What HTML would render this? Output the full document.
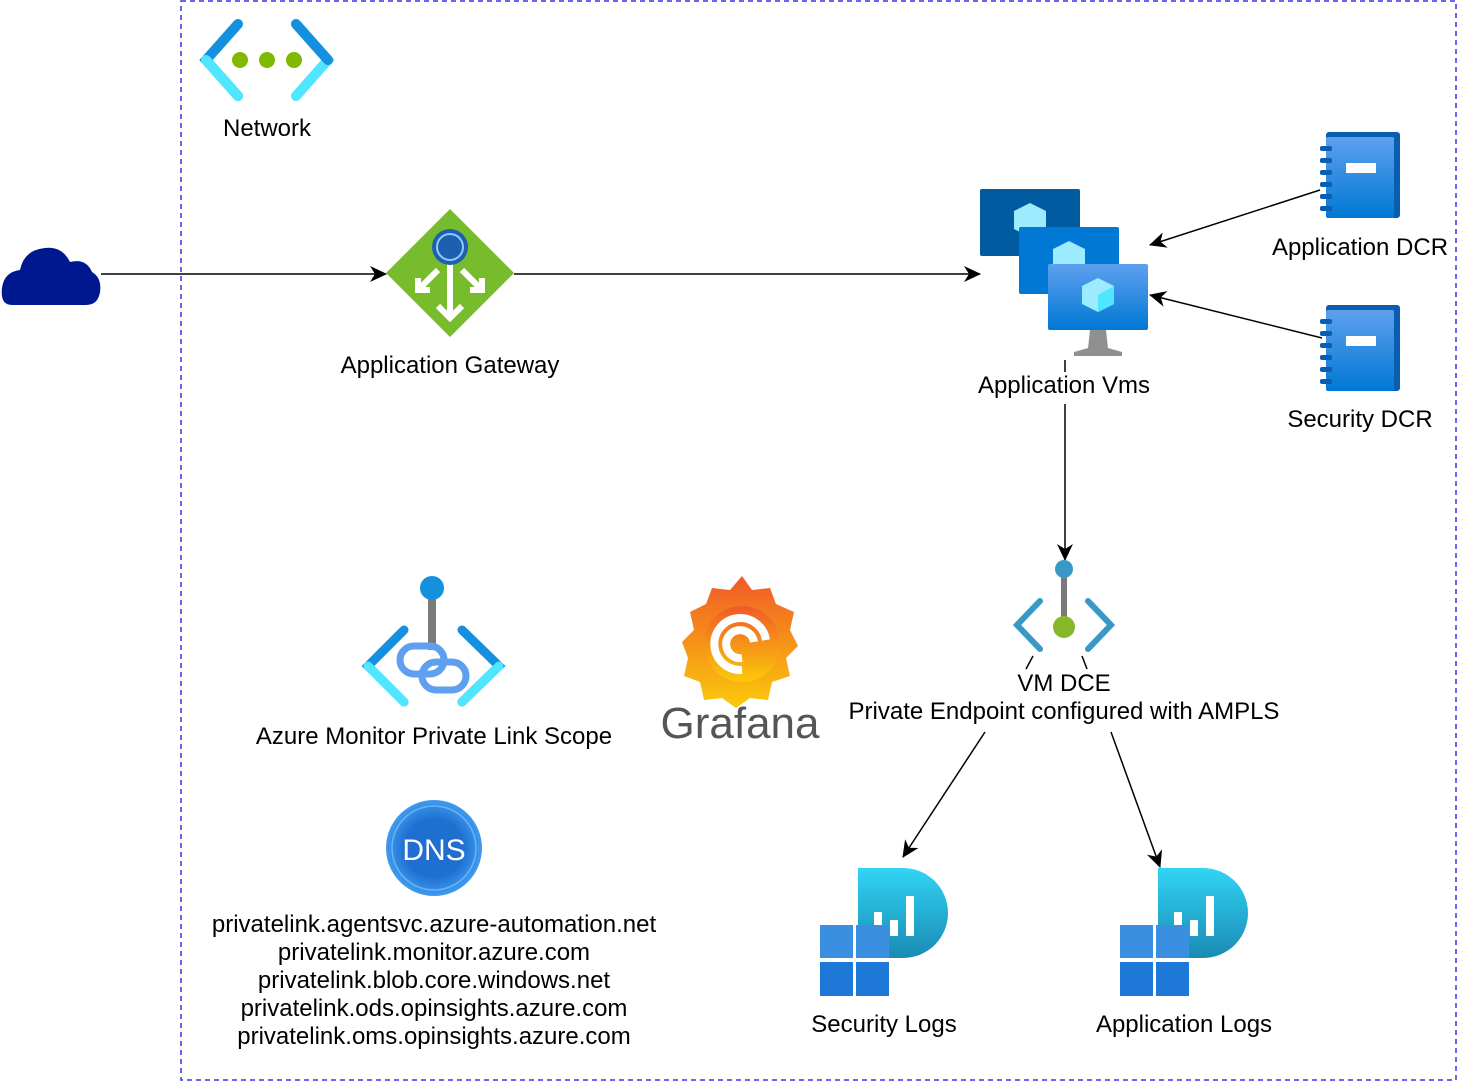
<!DOCTYPE html>
<html><head><meta charset="utf-8"><style>
html,body{margin:0;padding:0;background:#fff;}
svg{display:block;}
text{font-family:"Liberation Sans",Arial,sans-serif;font-size:24px;fill:#000;text-anchor:middle;}
</style></head><body>
<svg width="1458" height="1082" viewBox="0 0 1458 1082" xmlns="http://www.w3.org/2000/svg">
<defs>
<marker id="ar" markerWidth="18" markerHeight="16" refX="16" refY="8" orient="auto" markerUnits="userSpaceOnUse">
<path d="M0,0 L17,8 L0,16 L5,8 Z" fill="#000"/></marker>
<linearGradient id="vmg" x1="0" y1="0" x2="0" y2="1"><stop offset="0" stop-color="#5EA0EF"/><stop offset="1" stop-color="#0078D4"/></linearGradient>
<linearGradient id="lag" x1="0" y1="0" x2="0" y2="1"><stop offset="0" stop-color="#32D4F5"/><stop offset="1" stop-color="#198AB3"/></linearGradient>
<linearGradient id="lab" x1="0" y1="0" x2="0" y2="1"><stop offset="0" stop-color="#5EA0EF"/><stop offset="1" stop-color="#0078D4"/></linearGradient>
<linearGradient id="graf" x1="0" y1="0" x2="0" y2="1"><stop offset="0" stop-color="#F05A28"/><stop offset="1" stop-color="#FBCA0A"/></linearGradient>
<radialGradient id="dnsg" cx="0.5" cy="0.5" r="0.5"><stop offset="0.6" stop-color="#1E6FD0"/><stop offset="1" stop-color="#3F9BEF"/></radialGradient>
</defs>
<rect x="181" y="1" width="1275" height="1079" fill="none" stroke="#3333ee" stroke-width="1.5" stroke-dasharray="5,4"/>

<!-- Network -->
<path d="M238,24 L206,60 L238,96" fill="none" stroke="#1490DF" stroke-width="10" stroke-linecap="round"/>
<path d="M296,24 L328,60 L296,96" fill="none" stroke="#50E6FF" stroke-width="10" stroke-linecap="round"/>
<path d="M296,24 L328,60" fill="none" stroke="#1490DF" stroke-width="10" stroke-linecap="round"/>
<path d="M206,60 L238,96" fill="none" stroke="#50E6FF" stroke-width="10" stroke-linecap="round"/>
<circle cx="240" cy="60" r="8" fill="#7FBA00"/><circle cx="267" cy="60" r="8" fill="#7FBA00"/><circle cx="294" cy="60" r="8" fill="#7FBA00"/>
<text x="267" y="136">Network</text>

<!-- Cloud -->
<path d="M12,305 Q0,305 2,288 Q4,272 20,270 Q24,250 45,248 Q62,246 70,262 Q86,258 92,272 Q102,278 100,292 Q98,305 86,305 Z" fill="#00188F"/>
<line x1="101" y1="274" x2="386" y2="274" stroke="#000" stroke-width="1.5" marker-end="url(#ar)"/>

<!-- App Gateway -->
<path d="M450,209 L514,273 L450,337 L386,273 Z" fill="#76BC2D"/>
<path d="M450,262 L450,318 M438,306 L450,318 L462,306 M438,270 L418,290 M418,278 L418,290 L430,290 M462,270 L482,290 M482,278 L482,290 L470,290" stroke="#fff" stroke-width="6" fill="none"/>
<circle cx="450" cy="247" r="18" fill="#1F5FB0"/><circle cx="450" cy="247" r="13" fill="none" stroke="#8CCBFF" stroke-width="2"/>
<text x="450" y="373">Application Gateway</text>
<line x1="514" y1="274" x2="980" y2="274" stroke="#000" stroke-width="1.5" marker-end="url(#ar)"/>

<!-- VMs -->
<rect x="980" y="189" width="100" height="67" rx="2" fill="#005BA1"/>
<path d="M1030,203 L1046,211 L1046,229 L1030,237 L1014,229 L1014,211 Z" fill="#9CEBFF"/>
<rect x="1019" y="227" width="100" height="67" rx="2" fill="#0078D4"/>
<path d="M1069,241 L1085,249 L1085,267 L1069,275 L1053,267 L1053,249 Z" fill="#9CEBFF"/>
<rect x="1048" y="264" width="100" height="66" rx="2" fill="url(#vmg)"/>
<path d="M1098,278 L1114,286 L1114,304 L1098,312 L1082,304 L1082,286 Z" fill="#9CEBFF"/><path d="M1098,295 L1114,286 L1114,304 L1098,312 Z" fill="#50E6FF"/>
<path d="M1090,330 L1106,330 L1108,348 L1122,352 L1122,356 L1074,356 L1074,352 L1088,348 Z" fill="#909090"/>
<line x1="1065" y1="360" x2="1065" y2="372" stroke="#000" stroke-width="1.5"/>
<text x="1064" y="393">Application Vms</text>
<line x1="1065" y1="404" x2="1065" y2="560" stroke="#000" stroke-width="1.5" marker-end="url(#ar)"/>

<!-- DCRs -->
<g id="dcr">
<rect x="1326" y="132" width="74" height="86" rx="3" fill="#0A5EB0"/>
<rect x="1326" y="137" width="68" height="81" rx="2" fill="url(#lab)"/>
<rect x="1346" y="163" width="30" height="10" fill="#fff"/>
<g fill="#0A5EB0"><rect x="1320" y="146" width="12" height="5" rx="2"/><rect x="1320" y="158" width="12" height="5" rx="2"/><rect x="1320" y="170" width="12" height="5" rx="2"/><rect x="1320" y="182" width="12" height="5" rx="2"/><rect x="1320" y="194" width="12" height="5" rx="2"/><rect x="1320" y="206" width="12" height="5" rx="2"/></g>
</g>
<use href="#dcr" transform="translate(0,173)"/>
<text x="1360" y="255">Application DCR</text>
<text x="1360" y="427">Security DCR</text>
<line x1="1320" y1="190" x2="1150" y2="245" stroke="#000" stroke-width="1.5" marker-end="url(#ar)"/>
<line x1="1322" y1="338" x2="1150" y2="295" stroke="#000" stroke-width="1.5" marker-end="url(#ar)"/>

<!-- DCE -->
<path d="M1040,601 L1017,625 L1040,649" fill="none" stroke="#3999C6" stroke-width="6" stroke-linecap="round"/>
<path d="M1088,601 L1111,625 L1088,649" fill="none" stroke="#3999C6" stroke-width="6" stroke-linecap="round"/>
<line x1="1064" y1="569" x2="1064" y2="627" stroke="#7A7A7A" stroke-width="6"/>
<circle cx="1064" cy="569" r="9" fill="#3999C6"/><circle cx="1064" cy="627" r="11" fill="#86B82A"/>
<line x1="1033" y1="656" x2="1026" y2="669" stroke="#000" stroke-width="1.5"/>
<line x1="1082" y1="656" x2="1087" y2="669" stroke="#000" stroke-width="1.5"/>
<text x="1064" y="691">VM DCE</text>
<text x="1064" y="719">Private Endpoint configured with AMPLS</text>
<line x1="985" y1="732" x2="903" y2="857" stroke="#000" stroke-width="1.5" marker-end="url(#ar)"/>
<line x1="1111" y1="732" x2="1160" y2="867" stroke="#000" stroke-width="1.5" marker-end="url(#ar)"/>

<!-- Log analytics -->
<g id="la">
<path d="M858,868 L903,868 A45,45 0 0 1 903,958 L858,958 Z" fill="url(#lag)"/>
<rect x="874" y="912" width="8" height="24" fill="#fff"/><rect x="890" y="920" width="8" height="16" fill="#fff"/><rect x="906" y="896" width="8" height="40" fill="#fff"/>
<rect x="820" y="925" width="33" height="33" fill="#3A8FE0"/><rect x="856" y="925" width="33" height="33" fill="#3A8FE0"/>
<rect x="820" y="962" width="33" height="34" fill="#1E78D8"/><rect x="856" y="962" width="33" height="34" fill="#1E78D8"/>
</g>
<use href="#la" transform="translate(300,0)"/>
<text x="884" y="1032">Security Logs</text>
<text x="1184" y="1032">Application Logs</text>

<!-- AMPLS -->
<line x1="432" y1="588" x2="432" y2="650" stroke="#7A7A7A" stroke-width="8"/>
<circle cx="432" cy="588" r="12" fill="#1490DF"/>
<path d="M404,630 L368,666 L404,702" fill="none" stroke="#1490DF" stroke-width="9" stroke-linecap="round"/>
<path d="M462,630 L499,666 L462,702" fill="none" stroke="#1490DF" stroke-width="9" stroke-linecap="round"/>
<path d="M368,666 L404,702 M462,702 L499,666" fill="none" stroke="#50E6FF" stroke-width="9" stroke-linecap="round"/>
<rect x="400" y="646" width="44" height="28" rx="14" fill="none" stroke="#5EA0EF" stroke-width="7"/>
<rect x="422" y="662" width="44" height="28" rx="14" fill="none" stroke="#5EA0EF" stroke-width="7"/>
<text x="434" y="744">Azure Monitor Private Link Scope</text>

<!-- Grafana -->
<path d="M742,576 L752,590 L770,588 L776,604 L794,612 L790,630 L798,646 L786,658 L790,676 L772,682 L768,700 L750,698 L736,708 L722,698 L704,700 L700,682 L684,676 L688,658 L682,642 L694,630 L690,612 L706,604 L712,588 L730,590 Z" fill="url(#graf)"/>
<circle cx="742" cy="644" r="38" fill="url(#graf)"/>
<path d="M742,670 A26,26 0 1 1 766,640 M742,658 A14,14 0 1 1 754,642" fill="none" stroke="#fff" stroke-width="8"/>
<text x="740" y="738" style="font-size:44px;fill:#555;">Grafana</text>

<!-- DNS -->
<circle cx="434" cy="848" r="48" fill="url(#dnsg)"/>
<circle cx="434" cy="848" r="42" fill="none" stroke="#7FC4FF" stroke-width="1.5" opacity="0.7"/>
<text x="434" y="860" style="font-size:30px;fill:#fff">DNS</text>
<text x="434" y="932">privatelink.agentsvc.azure-automation.net</text>
<text x="434" y="960">privatelink.monitor.azure.com</text>
<text x="434" y="988">privatelink.blob.core.windows.net</text>
<text x="434" y="1016">privatelink.ods.opinsights.azure.com</text>
<text x="434" y="1044">privatelink.oms.opinsights.azure.com</text>
</svg>
</body></html>
